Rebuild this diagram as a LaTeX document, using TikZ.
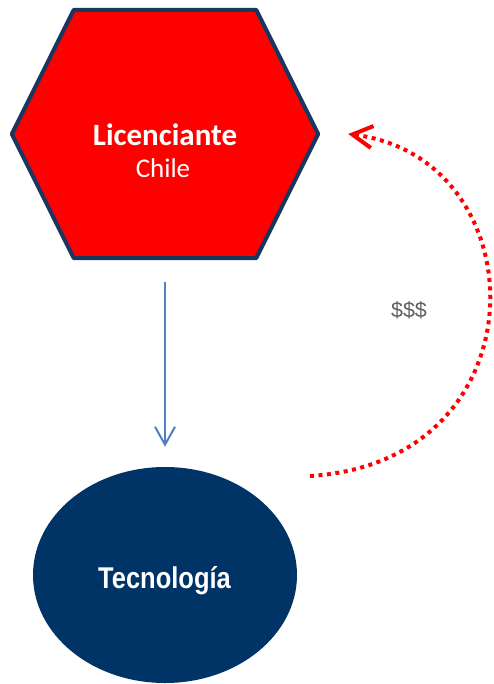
\documentclass[tikz,border=0pt]{standalone}
\usepackage{fontspec}
\usepackage{xcolor}
\usepackage{tikz}
\usetikzlibrary{shapes.geometric, arrows.meta}

\newfontfamily\calfont{Carlito}
\newfontfamily\arialfont{Liberation Sans}
\newfontfamily\narrowfont[FakeStretch=0.85]{Liberation Sans}

\definecolor{hexred}{RGB}{255,0,0}
\definecolor{hexedge}{RGB}{23,55,94}
\definecolor{techblue}{RGB}{0,51,102}
\definecolor{flowblue}{RGB}{79,129,189}
\definecolor{moneygray}{RGB}{96,96,96}

\tikzset{
  hexbox/.style={minimum width=306pt, minimum height=248pt, inner sep=0pt},
  hexline/.style={fill=hexred, draw=hexedge, line width=4pt, line join=round},
  techbox/.style={ellipse, fill=techblue, minimum width=264pt, minimum height=216pt, inner sep=0pt},
  flowline/.style={draw=flowblue, line width=2pt, -{Straight Barb[length=18pt, width=20pt, line width=2pt]}},
  payline/.style={draw=hexred, line width=4pt, dash pattern=on 4pt off 4.5pt, -{Straight Barb[length=20pt, width=22pt, line width=4pt]}}
}

\begin{document}
\begin{tikzpicture}[x=1pt, y=-1pt]
      \useasboundingbox (0,0) rectangle (494,684);
      \node[hexbox] (hex) at (165,134) {};
      \filldraw[hexline] (hex.west) -- ([xshift=62pt]hex.north west) -- ([xshift=-62pt]hex.north east)
        -- (hex.east) -- ([xshift=-62pt]hex.south east) -- ([xshift=62pt]hex.south west) -- cycle;
      \node[anchor=base, text=white, font=\calfont\bfseries\fontsize{31}{34}\selectfont] (lic) at (165,146) {Licenciante};
      \node[anchor=base, text=white, font=\calfont\fontsize{27}{30}\selectfont] (chile) at (163,178) {Chile};
      \node[techbox] (tec) at (165,575) {};
      \node[anchor=base, text=white, font=\narrowfont\bfseries\fontsize{30}{34}\selectfont] (teclabel) at (164.5,588) {Tecnología};
      \node[text=moneygray, font=\arialfont\fontsize{21.5}{24}\selectfont] (money) at (409,310) {\$\$\$};
      % payment goes back to the licensor
      \coordinate (payfrom) at (310,476);
      \coordinate (payto) at ([xshift=30pt]hex.east);
      \draw[flowline, shorten <=24pt, shorten >=20pt] (hex.south) -- (tec.north);
      \draw[payline] (payfrom) .. controls (545,462) and (540,158) .. (payto);
\end{tikzpicture}
\end{document}
